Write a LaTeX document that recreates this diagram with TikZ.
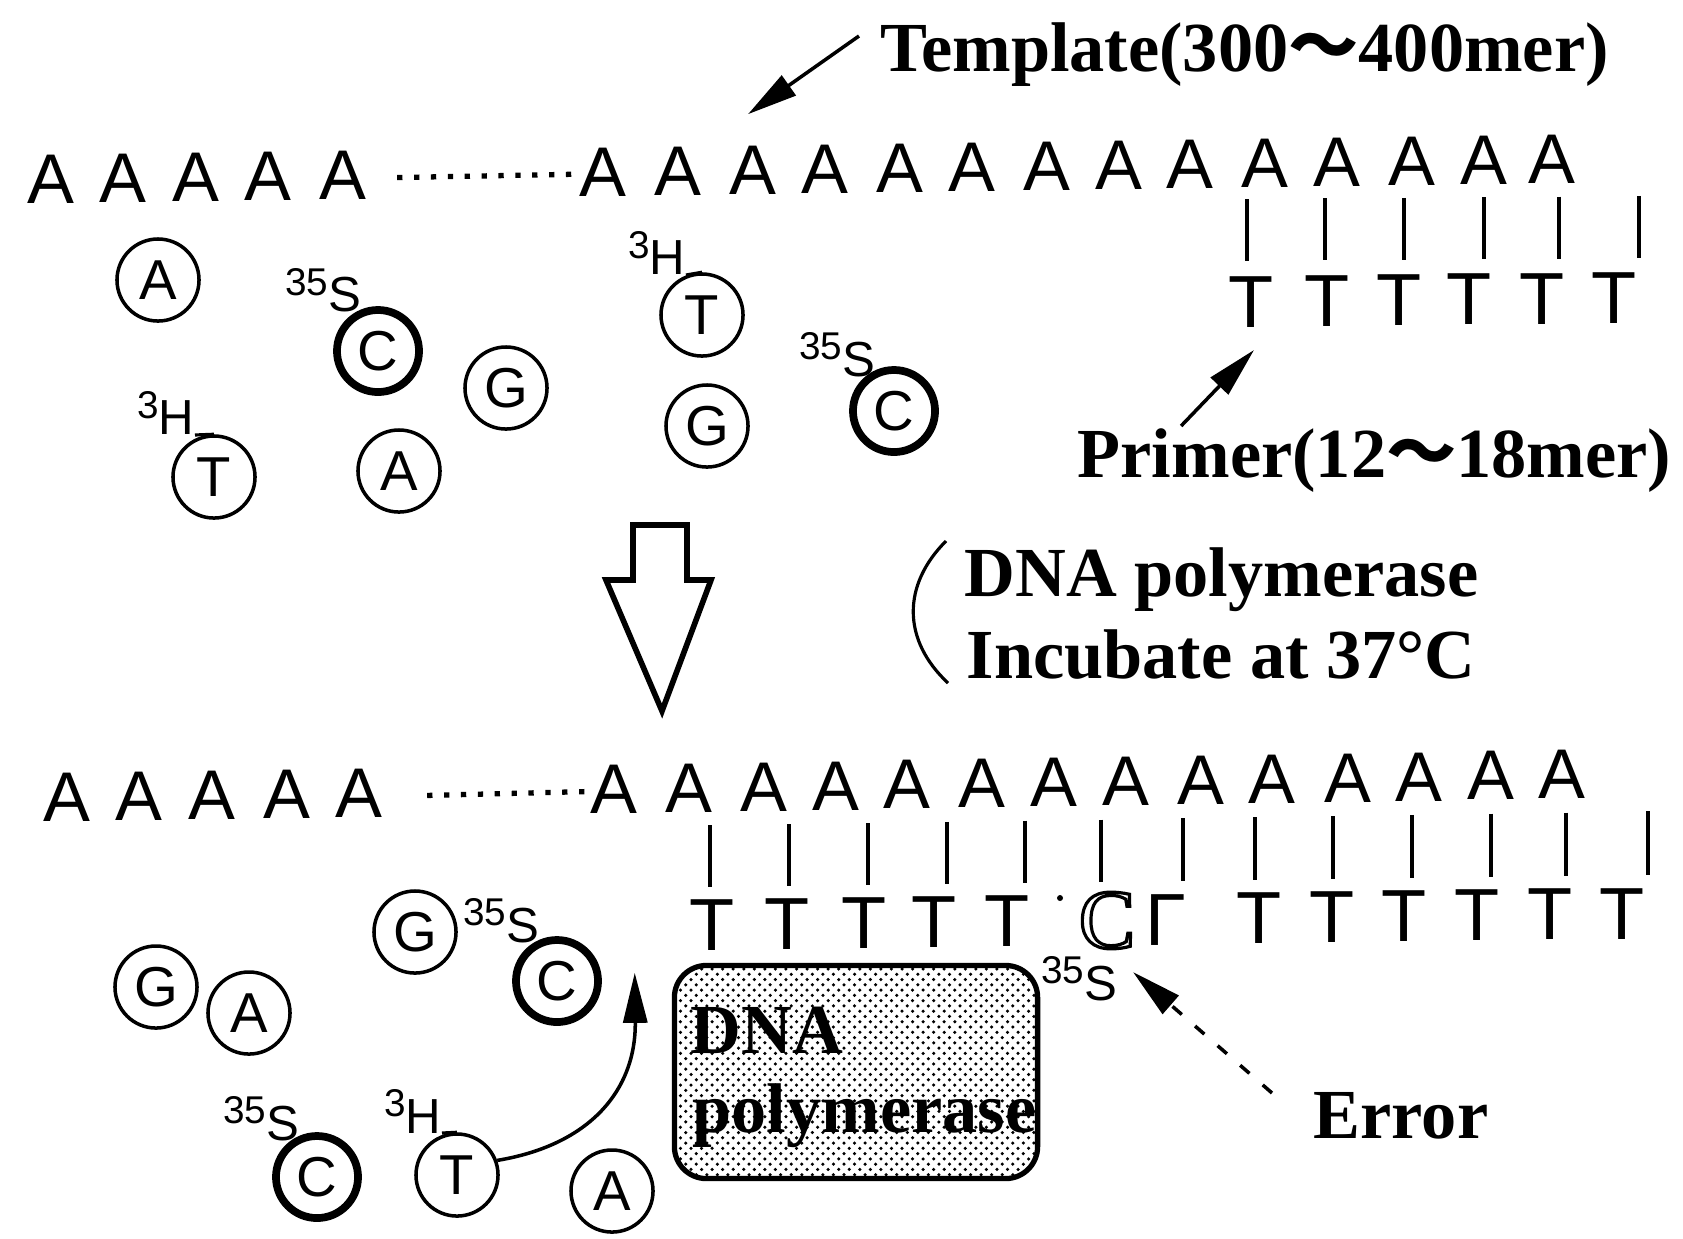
\documentclass[tikz,border=0pt]{standalone}
\usepackage{fontspec}
\setmainfont{Liberation Serif}
\setsansfont{Liberation Sans}
\newfontfamily\cjk{Noto Sans CJK JP}
\usetikzlibrary{arrows.meta,patterns}

\newcommand{\iso}[2]{\raisebox{4.8pt}{\fontsize{11}{11}\selectfont #1}#2}
\newcommand{\wave}{{\cjk ～}}
\newcommand{\hollow}[1]{\special{pdf:literal direct 1 Tr 0.9 w}#1\special{pdf:literal direct 0 Tr 1 w}}

\begin{document}
\begin{tikzpicture}[x=0.01cm,y=-0.01cm,
	strand/.style={font=\sffamily\fontsize{20}{20}\selectfont,anchor=base,inner sep=0pt},
	tbase/.style={font=\sffamily\fontsize{21}{21}\selectfont,anchor=base,inner sep=0pt},
	nuc/.style={circle,draw,line width=1pt,minimum size=0.82cm,inner sep=0pt,font=\sffamily\fontsize{16}{16}\selectfont},
	hot/.style={nuc,line width=2.2pt},
	tag/.style={font=\sffamily\fontsize{14}{14}\selectfont,anchor=base east,inner sep=0pt},
	note/.style={font=\bfseries\fontsize{20}{20}\selectfont,anchor=base west,inner sep=0pt},
	pointer/.style={-{Triangle[length=0.5cm,width=0.24cm]},line width=1pt},
	dotline/.style={line width=1.5pt,dash pattern=on 1.5pt off 3.3pt},
	pair/.style={line width=0.9pt}
	]
	\useasboundingbox (0,0) rectangle (1683,1238);

	% before: template, primer and free nucleotides
	\foreach \x [count=\i] in {51,123,196,268,343}
		\node[strand] (ta\i) at (\x,{204-0.013*\x}) {A};
	\foreach \x [count=\i] in {603,678,753,825,900,972,1047,1119,1190,1265,1337,1412,1484,1552}
		\node[strand] (tb\i) at (\x,{204-0.013*\x}) {A};
	\draw[dotline] ([xshift=0.3cm,yshift=0.22cm]ta5.base east) -- ([yshift=0.22cm]tb1.base west);
	\foreach \x in {1247,1325,1404,1484,1559,1639}
		\draw[pair] (\x,{199-0.008*(\x-1247)}) -- (\x,{261-0.008*(\x-1247)});
	\foreach \x [count=\i] in {1251,1327,1399,1469,1542,1614}
		\node[tbase] (pt\i) at (\x,{327-0.01*(\x-1251)}) {T};

	\node[note] (tmpl) at (880,71) {Template(300\wave400mer)};
	\draw[pointer] ([shift={(-0.21cm,0.35cm)}]tmpl.base west) -- ([shift={(-0.05cm,0.8cm)}]tb3.base);
	\node[note] (prim) at (1077,477) {Primer(12\wave18mer)};
	\draw[pointer] ([shift={(1.04cm,0.51cm)}]prim.base west) -- ([shift={(0.03cm,-0.23cm)}]pt1.base);

	\node[nuc] (fa1) at (158,280) {A};
	\node[hot] (fc1) at (378,351) {C};
	\node[tag] (fc1s) at ([shift={(-0.16cm,0.39cm)}]fc1.center) {\iso{35}{S}};
	\node[nuc] (fg1) at (506,388) {G};
	\node[nuc] (ft1) at (214,477) {T};
	\node[tag] (ft1h) at ([shift={(-0.19cm,0.42cm)}]ft1.center) {\iso{3}{H}};
	\draw[pair] (ft1h.base east) -- (ft1.north);
	\node[nuc] (fa2) at (399,471) {A};
	\node[nuc] (ft2) at (702,315) {T};
	\node[tag] (ft2h) at ([shift={(-0.16cm,0.4cm)}]ft2.center) {\iso{3}{H}};
	\draw[pair] (ft2h.base east) -- (ft2.north);
	\node[nuc] (fg2) at (707,426) {G};
	\node[hot] (fc2) at (894,411) {C};
	\node[tag] (fc2s) at ([shift={(-0.18cm,0.35cm)}]fc2.center) {\iso{35}{S}};

	% step
	\draw[line width=1.6pt,line join=miter] (633,525) -- (687,525) -- (687,580) -- (711,580) -- (662,711) -- (606,580) -- (633,580) -- cycle;
	\draw[line width=0.9pt] (946,541) .. controls (902,585) and (902,640) .. (948,683);
	\node[note] (cond1) at (964,596) {DNA polymerase};
	\node[note] (cond2) at (966,678) {Incubate at 37°C};

	% after: extended primer with one error
	\foreach \x [count=\i] in {67,139,212,287,359}
		\node[strand] (ba\i) at (\x,{823-0.0155*\x}) {A};
	\foreach \x [count=\i] in {614,689,764,836,907,982,1054,1126,1201,1272,1348,1419,1491,1562}
		\node[strand] (bb\i) at (\x,{823-0.0155*\x}) {A};
	\draw[dotline] ([xshift=0.44cm,yshift=0.22cm]ba5.base east) -- ([yshift=0.22cm]bb1.base west);
	\foreach \x in {710,789,868,947,1025,1101,1183,1255,1333,1412,1491,1566,1648}
		\draw[pair] (\x,{836-0.015*\x}) -- (\x,{895-0.012*\x});
	\foreach \x [count=\i] in {712,787,864,934,1007}
		\node[tbase] (bt\i) at (\x,{950-0.012*(\x-712)}) {T};
	\fill (1060,898) circle (0.03cm);
	\node[anchor=base,inner sep=0pt,font=\fontsize{24}{24}\selectfont] (cc) at (1107,948) {\hollow{C}};
	\node[tbase,anchor=base west] (gam) at (1145,945) {Γ};
	\foreach \x [count=\i] in {1259,1332,1404,1477,1550,1622}
		\node[tbase] (bu\i) at (\x,{950-0.012*(\x-712)}) {T};
	\node[tag] (ccs) at (1118,1000) {\iso{35}{S}};
	\node[note] (err) at (1313,1138) {Error};
	\draw[pointer,dash pattern=on 3.5pt off 5pt] ([shift={(-0.41cm,0.45cm)}]err.base west) -- ([shift={(0.26cm,-0.24cm)}]cc.base);

	\node[draw,line width=1.5pt,rounded corners=0.32cm,minimum width=3.63cm,minimum height=2.13cm,pattern=crosshatch dots] (pol) at (856,1072) {};
	\node[note] (polA) at (690,1053) {DNA};
	\node[note] (polB) at (692,1132) {polymerase};

	\node[nuc] (lg1) at (156,987) {G};
	\node[nuc] (la1) at (249,1013) {A};
	\node[nuc] (lg2) at (415,932) {G};
	\node[hot] (lc1) at (557,981) {C};
	\node[tag] (lc1s) at ([shift={(-0.17cm,0.39cm)}]lc1.center) {\iso{35}{S}};
	\node[hot] (lc2) at (317,1177) {C};
	\node[tag] (lc2s) at ([shift={(-0.17cm,0.37cm)}]lc2.center) {\iso{35}{S}};
	\node[nuc] (lt1) at (457,1175) {T};
	\node[tag] (lt1h) at ([shift={(-0.15cm,0.42cm)}]lt1.center) {\iso{3}{H}};
	\draw[pair] (lt1h.base east) -- (lt1.north);
	\node[nuc] (la2) at (612,1191) {A};
	\draw[pointer] (lt1.20) .. controls (590,1145) and (636,1090) .. ([shift={(-0.37cm,-0.1cm)}]pol.north west);
\end{tikzpicture}
\end{document}
